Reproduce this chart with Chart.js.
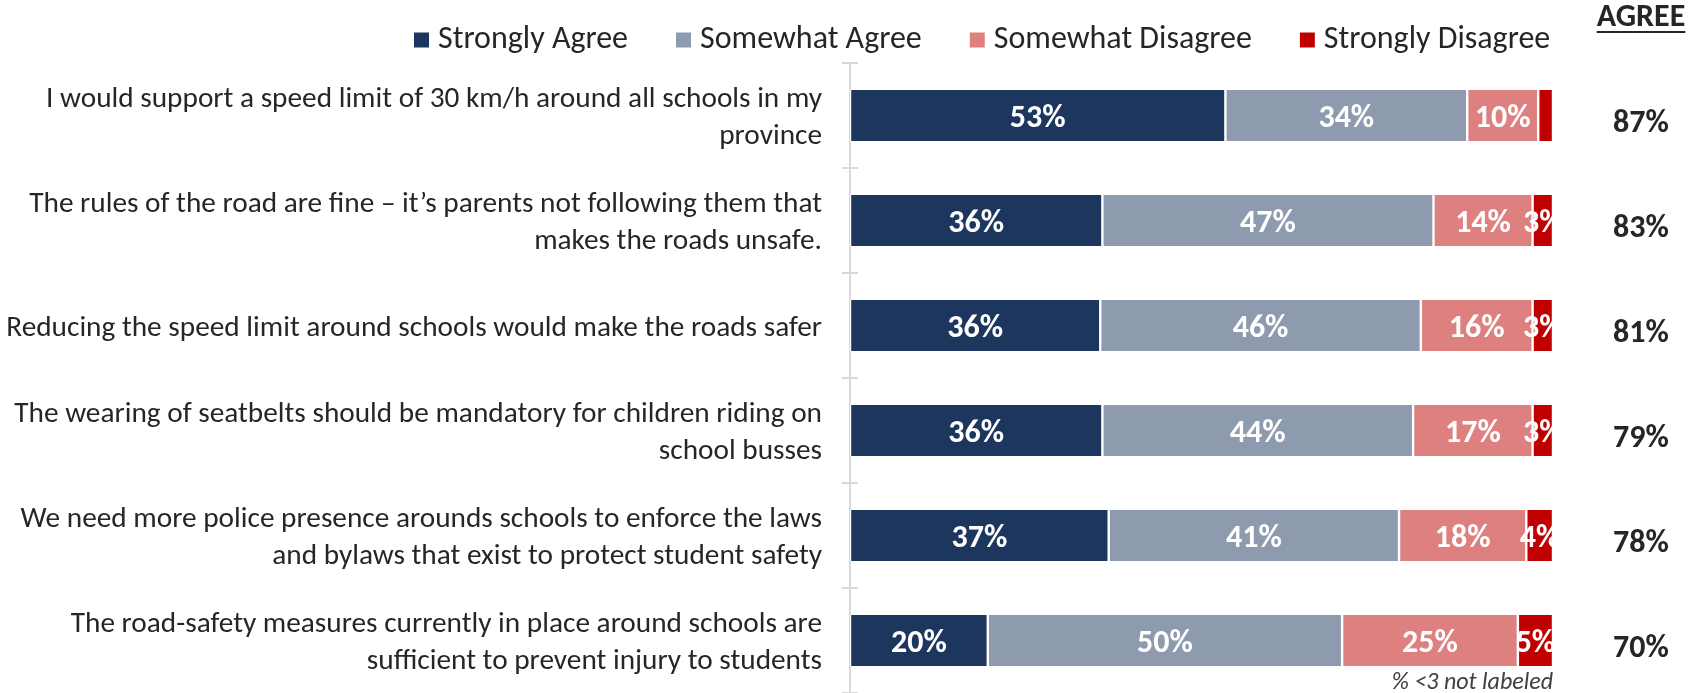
<!DOCTYPE html>
<html><head><meta charset="utf-8">
<script src="https://cdn.jsdelivr.net/npm/chart.js@4.4.1/dist/chart.umd.min.js"></script>
<style>html,body{margin:0;padding:0;background:#fff}canvas{display:block}</style>
</head>
<body>
<canvas id="c" width="1703" height="693"></canvas>
<script>
// ---- data ----
const categories = [
  ["I would support a speed limit of 30 km/h around all schools in my", "province"],
  ["The rules of the road are fine \u2013 it\u2019s parents not following them that", "makes the roads unsafe."],
  ["Reducing the speed limit around schools would make the roads safer"],
  ["The wearing of seatbelts should be mandatory for children riding on", "school busses"],
  ["We need more police presence arounds schools to enforce the laws", "and bylaws that exist to protect student safety"],
  ["The road-safety measures currently in place around schools are", "sufficient to prevent injury to students"]
];
const seriesNames = ["Strongly Agree", "Somewhat Agree", "Somewhat Disagree", "Strongly Disagree"];
const stronglyAgree    = [53.4, 35.9, 35.6, 35.9, 36.8, 19.6];
const somewhatAgree    = [34.4, 47.1, 45.6, 44.2, 41.3, 50.4];
const somewhatDisagree = [10.1, 14.1, 15.9, 17.0, 18.1, 25.0];
const stronglyDisagree = [2.1, 2.9, 2.9, 2.9, 3.8, 5.0];
const agreeTotals = ["87%", "83%", "81%", "79%", "78%", "70%"];
const agreeHeader = "AGREE";
const footnote = "% <3 not labeled";
const labelThreshold = 3;

// ---- styles ----
const seriesColors = ["#1D365E", "#8E9BAE", "#DF8080", "#C00000"];
const FONT = "Carlito, Calibri, 'Liberation Sans Narrow', sans-serif";
const TEXT = "#262626";
const AXIS = "#D9D9D9";

const seriesValues = [stronglyAgree, somewhatAgree, somewhatDisagree, stronglyDisagree];
const datasets = seriesNames.map((name, i) => ({
  label: name,
  data: seriesValues[i],
  backgroundColor: seriesColors[i],
  borderColor: "#FFFFFF",
  borderWidth: {left: 1.2, right: 1.2, top: 0, bottom: 0},
  borderSkipped: false,
  barPercentage: 0.486,
  categoryPercentage: 1
}));

const crossTicks = {
  id: "crossTicks",
  beforeDatasetsDraw(chart) {
    const y = chart.scales.y, ctx = chart.ctx;
    const x0 = chart.chartArea.left;
    const n = categories.length;
    const step = (y.getPixelForValue(1) - y.getPixelForValue(0));
    ctx.save();
    ctx.strokeStyle = AXIS; ctx.lineWidth = 2;
    for (let k = 0; k <= n; k++) {
      const py = y.getPixelForValue(k) - step / 2;
      ctx.beginPath(); ctx.moveTo(x0 - 8, py); ctx.lineTo(x0 + 8, py); ctx.stroke();
    }
    ctx.restore();
  }
};

const barLabels = {
  id: "barLabels",
  afterDatasetsDraw(chart) {
    const ctx = chart.ctx;
    ctx.save();
    ctx.font = "bold 32px " + FONT;
    ctx.fillStyle = "#FFFFFF";
    ctx.textAlign = "center";
    ctx.textBaseline = "middle";
    chart.data.datasets.forEach((ds, di) => {
      chart.getDatasetMeta(di).data.forEach((bar, i) => {
        const v = Math.round(ds.data[i]);
        if (v < labelThreshold) return;
        const cx = (bar.x + bar.base) / 2;
        ctx.fillText(v + "%", cx, bar.y + 3);
      });
    });
    ctx.restore();
  }
};

const extras = {
  id: "extras",
  afterDraw(chart) {
    const ctx = chart.ctx, y = chart.scales.y, area = chart.chartArea;
    ctx.save();
    // legend
    ctx.font = "32px " + FONT;
    ctx.textBaseline = "middle";
    ctx.textAlign = "left";
    let x = 414;
    const ly = 40;
    chart.data.datasets.forEach((ds) => {
      ctx.fillStyle = ds.backgroundColor;
      ctx.fillRect(x, ly - 7.5, 15, 15);
      ctx.fillStyle = TEXT;
      ctx.fillText(ds.label, x + 24, ly);
      x += 24 + ctx.measureText(ds.label).width + 48;
    });
    // AGREE header
    const cx = 1641;
    ctx.font = "bold 32px " + FONT;
    ctx.textAlign = "center";
    ctx.fillStyle = TEXT;
    ctx.fillText(agreeHeader, cx, 18);
    const hw = ctx.measureText(agreeHeader).width;
    ctx.fillRect(cx - hw / 2, 31, hw, 2);
    // agree totals
    agreeTotals.forEach((t, i) => {
      ctx.fillText(t, cx, y.getPixelForValue(i) + 8);
    });
    // footnote
    ctx.font = "italic 24px " + FONT;
    ctx.textAlign = "right";
    ctx.fillStyle = "#404040";
    ctx.fillText(footnote, area.right, 683);
    ctx.restore();
  }
};

new Chart(document.getElementById("c"), {
  type: "bar",
  data: { labels: categories, datasets },
  options: {
    indexAxis: "y",
    responsive: false,
    animation: false,
    layout: { padding: { top: 63, right: 150, bottom: 0, left: 0 } },
    plugins: { legend: { display: false }, tooltip: { enabled: false } },
    scales: {
      x: { stacked: true, min: 0, max: 100, display: false },
      y: {
        stacked: true,
        afterFit(scale) {
          scale.width = 850;
          scale.paddingTop = 0;
          scale.paddingBottom = 0;
        },
        grid: { display: false, drawTicks: false },
        border: { display: true, color: AXIS, width: 2 },
        ticks: {
          autoSkip: false,
          padding: 28,
          labelOffset: 3,
          color: TEXT,
          font: { family: FONT, size: 29.3, lineHeight: 1.27 }
        }
      }
    }
  },
  plugins: [crossTicks, barLabels, extras]
});
</script>
</body></html>
